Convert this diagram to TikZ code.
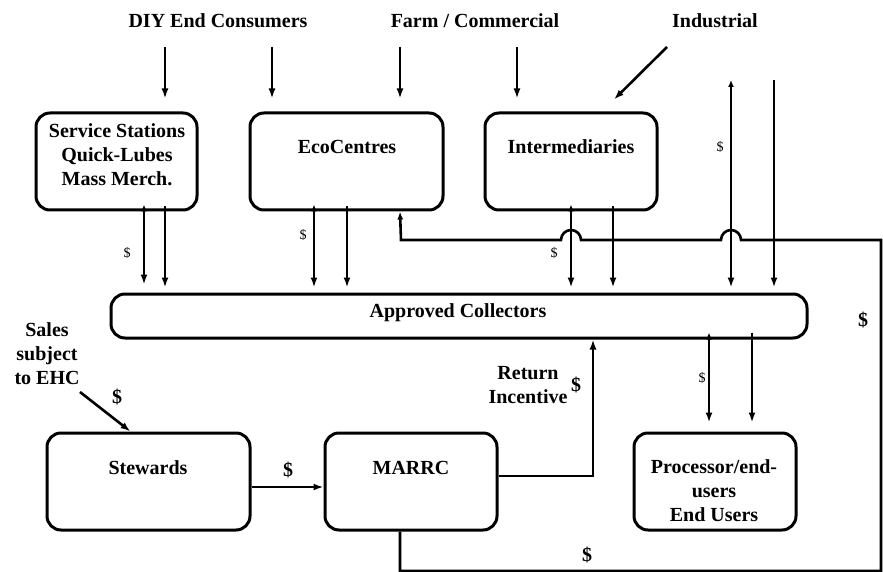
\documentclass[tikz,border=0pt]{standalone}
\usepackage{fontspec}
\setmainfont{Liberation Serif}
\usetikzlibrary{arrows.meta,calc}

\begin{document}
\begin{tikzpicture}[x=1pt,y=-1pt]
\useasboundingbox (0,0) rectangle (883,572);

% Styles for the boxes, their titles and the flow lines
\tikzstyle{box}=[draw, line width=3pt, rounded corners=14pt, inner sep=0pt]
\tikzstyle{title}=[font=\bfseries\fontsize{20}{24}\selectfont, align=center, inner sep=0pt]
\tikzstyle{cash}=[font=\fontsize{14}{16}\selectfont, inner sep=0pt]
\tikzstyle{bigcash}=[font=\bfseries\fontsize{20}{24}\selectfont, inner sep=0pt]
\tikzstyle{flow}=[line width=2.6pt, -{Latex[length=10pt,width=7pt]}]
\tikzstyle{twoway}=[line width=2.6pt, {Latex[length=7pt,width=6pt]}-{Latex[length=10pt,width=7pt]}]

% The boxes (drawn empty, the titles are placed on their own)
\node[box, minimum width=161, minimum height=97] (ss) at (116.5,161.5) {};
\node[box, minimum width=193, minimum height=97] (eco) at (346.5,161.5) {};
\node[box, minimum width=172, minimum height=97] (inter) at (571,161.5) {};
\node[box, minimum width=696, minimum height=44] (coll) at (459,316) {};
\node[box, minimum width=203, minimum height=97] (stew) at (148.5,481.5) {};
\node[box, minimum width=172, minimum height=97] (marrc) at (411,481.5) {};
\node[box, minimum width=162, minimum height=97] (proc) at (715,481.5) {};

% Titles
\node[title] (ssT) at (117,155) {Service Stations\\Quick-Lubes\\Mass Merch.};
\node[title] (ecoT) at (347,147) {EcoCentres};
\node[title] (interT) at (571,147) {Intermediaries};
\node[title] (collT) at (458,313) {Approved Collectors};
\node[title] (stewT) at (148,468) {Stewards};
\node[title] (marrcT) at (411,468) {MARRC};
\node[title] (procT) at (714,491) {Processor/end-\\users\\End Users};

% Sources at the top and on the left
\node[title] (diy) at (218,21) {DIY End Consumers};
\node[title] (farm) at (475,21) {Farm / Commercial};
\node[title] (ind) at (715,21) {Industrial};
\node[title] (sales) at (47,354) {Sales\\subject\\to EHC};
\node[title] (ret) at (528,385) {Return\\Incentive};

% Free ends of the incoming lines
\coordinate (t1) at (165,47);
\coordinate (t2) at (272,47);
\coordinate (t3) at (400,47);
\coordinate (t4) at (517,47);
\coordinate (t5) at (667,47);
\coordinate (r1) at (731,80);
\coordinate (r2) at (774,80);
\coordinate (s1) at (80,392);

% Columns of the lines between the rows
\coordinate (c1) at (144,0);
\coordinate (c2) at (165,0);
\coordinate (c3) at (314,0);
\coordinate (c4) at (347,0);
\coordinate (c5) at (571,0);
\coordinate (c6) at (613,0);
\coordinate (c7) at (709,0);
\coordinate (c8) at (752,0);
\coordinate (c9) at (593,0);
\coordinate (c10) at (400,0);

% Top row flows
\draw[flow, shorten >=13pt] (t1) -- (t1 |- ss.north);
\draw[flow, shorten >=13pt] (t2) -- (t2 |- eco.north);
\draw[flow, shorten >=13pt] (t3) -- (t3 |- eco.north);
\draw[flow, shorten >=13pt] (t4) -- (t4 |- inter.north);
\draw[flow] (t5) -- ($(inter.north)+(43,-12)$);
\draw[twoway, shorten >=5pt] (r1) -- (r1 |- coll.north);
\draw[flow, shorten >=5pt] (r2) -- (r2 |- coll.north);

% Down to the collectors
\draw[twoway, shorten <=-7pt, shorten >=8pt] (ss.south -| c1) -- (coll.north -| c1);
\draw[flow, shorten <=-5pt, shorten >=5pt] (ss.south -| c2) -- (coll.north -| c2);
\draw[twoway, shorten <=-7pt, shorten >=5pt] (eco.south -| c3) -- (coll.north -| c3);
\draw[flow, shorten <=-5pt, shorten >=5pt] (eco.south -| c4) -- (coll.north -| c4);
\draw[twoway, shorten <=-7pt, shorten >=5pt] (inter.south -| c5) -- (coll.north -| c5);
\draw[flow, shorten <=-5pt, shorten >=5pt] (inter.south -| c6) -- (coll.north -| c6);

% Collectors to processors
\draw[twoway, shorten <=-7pt, shorten >=9pt] (coll.south -| c7) -- (proc.north -| c7);
\draw[flow, shorten <=-7pt, shorten >=9pt] (coll.south -| c8) -- (proc.north -| c8);

% Stewards and MARRC
\draw[flow] (s1) -- ($(stew.north west)+(85,0)$);
\draw[flow] ($(stew.east)+(0,5.5)$) -- ($(marrc.west)+(0,5.5)$);
\draw[flow] ($(marrc.east)+(0,-5.5)$) -| (coll.south -| c9);

% Long loop from MARRC back to the EcoCentres, hopping over two lines
\draw[line width=2.6pt, -{Latex[length=8pt,width=6pt]}]
  (marrc.south -| c10) -- (400,571) -- (881,571) -- (881,240) -- (741,240)
  arc[start angle=0, end angle=-180, radius=10] -- (581,240)
  arc[start angle=0, end angle=-180, radius=10] -- (401,240) -- (eco.south -| c10);

% Money labels
\node[cash] (m1) at (127,253) {\$};
\node[cash] (m2) at (303,235) {\$};
\node[cash] (m3) at (554,253) {\$};
\node[cash] (m4) at (720,147) {\$};
\node[cash] (m5) at (702,378) {\$};
\node[bigcash] (m6) at (863,320) {\$};
\node[bigcash] (m7) at (587,555) {\$};
\node[bigcash] (m8) at (288,470) {\$};
\node[bigcash] (m9) at (117,397) {\$};
\node[bigcash] (m10) at (576,385) {\$};

\end{tikzpicture}
\end{document}
